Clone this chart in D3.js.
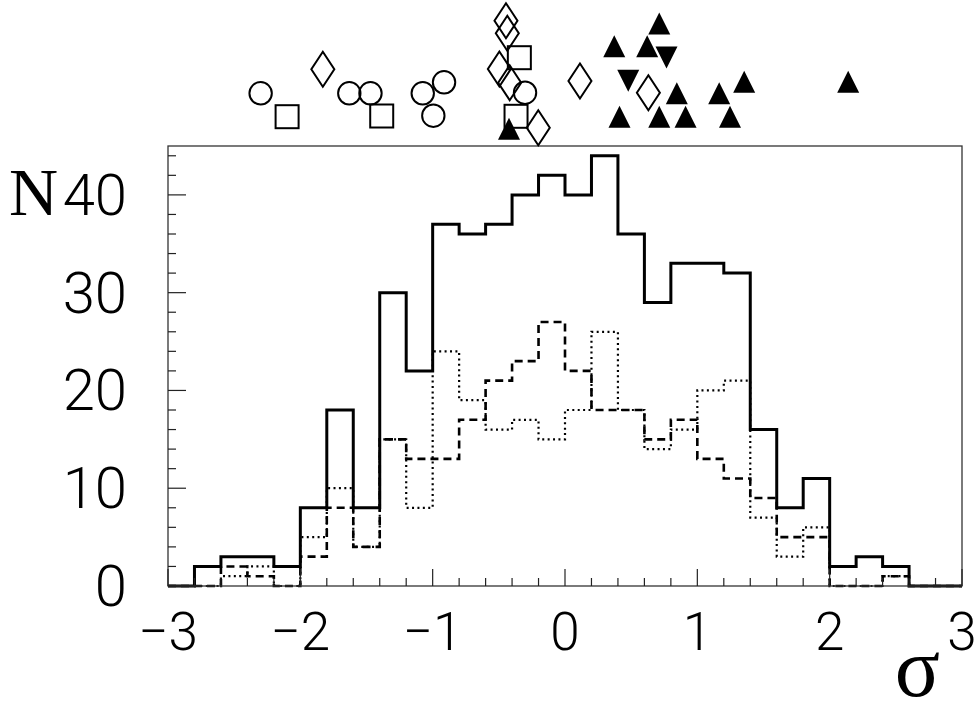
<!DOCTYPE html>
<html><head><meta charset="utf-8">
<script src="https://cdn.jsdelivr.net/npm/d3@7"></script>
<style>html,body{margin:0;padding:0;background:#fff;}svg{display:block;}</style>
</head><body><svg id="c" width="979" height="703"></svg>
<script>
// bin lower edges: -3.0 .. 2.8 step 0.2 (30 bins)
const binEdges = d3.range(31).map(i => +(-3 + i * 0.2).toFixed(1));
const totalCounts  = [0,2,3,3,2,8,18,8,30,22,37,36,37,40,42,40,44,36,29,33,33,32,16,8,11,2,3,2,0,0];
const dashedCounts = [0,0,2,1,0,3,8,4,15,13,13,17,21,23,27,22,18,18,15,17,13,11,9,5,5,0,0,1,0,0];
const dottedCounts = [0,0,1,2,0,5,10,4,15,8,24,19,16,17,15,18,26,18,14,16,20,21,7,3,6,0,0,1,0,0];
const xTickLabels = [-3,-2,-1,0,1,2,3];
const yTickLabels = [0,10,20,30,40];
// markers above the frame: sigma position and lift above the frame top
const circleSigma = [-2.30,-1.63,-1.47,-1.075,-0.914,-0.995,-0.302];
const circleLift  = [52.7,52.7,52.7,52.7,63.7,30.3,53.3];
const squareSigma = [-2.10,-1.385,-0.345,-0.370];
const squareLift  = [29.3,30,88.3,29.7];
const diamondSigma = [-1.83,-0.446,-0.436,-0.496,-0.418,-0.202,0.113,0.630];
const diamondLift  = [76.7,125.3,112.7,77,63.3,18.3,65,53.3];
const upSigma = [-0.423,0.712,0.372,0.621,0.845,1.165,1.354,2.140,0.412,0.712,0.911,1.247];
const upLift  = [17.3,122.5,99.8,99.8,52.7,52.7,64.3,64.3,29.2,29.2,29.2,29.2];
const downSigma = [0.767,0.478];
const downLift  = [88.5,65.2];

const svg = d3.select("#c");
const L = 168, R = 962, T = 146, B = 586;
const x = d3.scaleLinear().domain([-3,3]).range([L,R]);
const y = d3.scaleLinear().domain([0,45]).range([B,T]);
const lift = d3.scaleLinear().domain([0,146]).range([T,0]);

// histograms
const line = d3.line().x(d=>x(d[0])).y(d=>y(d[1])).curve(d3.curveStepAfter);
function pts(c){ const p = c.map((v,i)=>[binEdges[i],v]); p.push([binEdges[30], c[c.length-1]]); return p; }
svg.append("path").attr("d", line(pts(dottedCounts))).attr("fill","none").attr("stroke","#000")
  .attr("stroke-width",2.2).attr("stroke-dasharray","2,3.4");
svg.append("path").attr("d", line(pts(dashedCounts))).attr("fill","none").attr("stroke","#000")
  .attr("stroke-width",2.6).attr("stroke-dasharray","8,5");
svg.append("path").attr("d", line(pts(totalCounts))).attr("fill","none").attr("stroke","#000")
  .attr("stroke-width",3);

// frame
svg.append("rect").attr("x",L).attr("y",T).attr("width",R-L).attr("height",B-T)
  .attr("fill","none").attr("stroke","#333").attr("stroke-width",1.3);

// ticks
const xMinor = d3.range(31).map(i => -3 + i*0.2);
svg.append("g").selectAll("line").data(xMinor).join("line")
  .attr("x1",d=>x(d)).attr("x2",d=>x(d)).attr("y1",B)
  .attr("y2",d=> Math.abs(d-Math.round(d))<1e-6 ? B-17 : B-8)
  .attr("stroke","#222").attr("stroke-width",1.2);
const yMinor = d3.range(0,45,2);
svg.append("g").selectAll("line").data(yMinor).join("line")
  .attr("y1",d=>y(d)).attr("y2",d=>y(d)).attr("x1",L)
  .attr("x2",d=> d%10===0 ? L+18 : L+8)
  .attr("stroke","#222").attr("stroke-width",1.2);

// tick labels
const lblFont = "Roboto, Lato, 'Liberation Sans', sans-serif";
svg.append("g").selectAll("text").data(yTickLabels).join("text")
  .attr("x",127).attr("y",d=>y(d)+20).attr("text-anchor","end")
  .attr("font-family",lblFont).attr("font-weight",300).attr("font-size",58)
  .text(d=>d);
svg.append("g").selectAll("text").data(xTickLabels).join("text")
  .attr("x",d=>x(d)).attr("y",650).attr("text-anchor","middle")
  .attr("font-family",lblFont).attr("font-weight",300).attr("font-size",53)
  .text(d=> d<0 ? "\u2212"+Math.abs(d) : d);

// axis titles
svg.append("text").attr("x",9).attr("y",215).attr("font-family","'Liberation Serif', serif")
  .attr("font-size",68).text("N");
svg.append("text").attr("x",940).attr("y",696).attr("text-anchor","end")
  .attr("font-family","'Liberation Serif', serif").attr("font-size",84).text("σ");

// markers
const g = svg.append("g").attr("stroke","#000").attr("stroke-width",2);
g.selectAll("circle").data(circleSigma).join("circle")
  .attr("cx",d=>x(d)).attr("cy",(d,i)=>lift(circleLift[i])).attr("r",11.2).attr("fill","none");
g.selectAll("rect").data(squareSigma).join("rect")
  .attr("x",d=>x(d)-11.5).attr("y",(d,i)=>lift(squareLift[i])-11.5).attr("width",23).attr("height",23).attr("fill","none");
g.selectAll("path.dia").data(diamondSigma).join("path").attr("class","dia")
  .attr("d",(d,i)=>{const cx=x(d), cy=lift(diamondLift[i]); return `M${cx},${cy-17.5}L${cx+11.5},${cy}L${cx},${cy+17.5}L${cx-11.5},${cy}Z`;})
  .attr("fill","none");
g.selectAll("path.up").data(upSigma).join("path").attr("class","up")
  .attr("d",(d,i)=>{const cx=x(d), cy=lift(upLift[i]); return `M${cx-11},${cy+11}L${cx+11},${cy+11}L${cx},${cy-11}Z`;})
  .attr("fill","#000").attr("stroke","none");
g.selectAll("path.down").data(downSigma).join("path").attr("class","down")
  .attr("d",(d,i)=>{const cx=x(d), cy=lift(downLift[i]); return `M${cx-11},${cy-11}L${cx+11},${cy-11}L${cx},${cy+11}Z`;})
  .attr("fill","#000").attr("stroke","none");
</script></body></html>
